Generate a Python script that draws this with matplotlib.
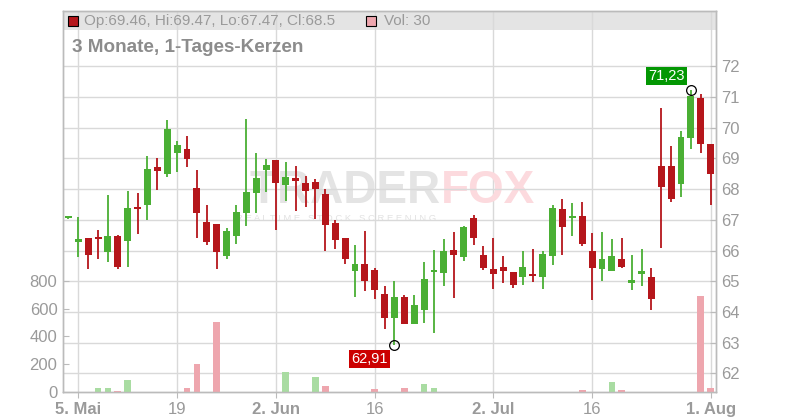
import numpy as np
import matplotlib
matplotlib.use("Agg")
import matplotlib.pyplot as plt
from matplotlib.patches import Rectangle

plt.rcParams['font.family'] = ['Liberation Sans', 'DejaVu Sans']

# Handelstage (Index 0 = 5. Mai), -1 = angeschnittene Kerze links
days = list(range(-1, 65))

opens = [67.06, 66.29, 66.41, 66.38, 65.96, 66.47, 66.32, 67.42, 67.49, 68.72, 68.50,
         69.19, 69.31, 68.04, 66.93, 66.86, 65.83, 66.48, 67.23, 67.88, 68.63,
         68.95, 68.15, 68.36, 68.20, 68.23, 67.84, 66.90, 66.41, 65.34, 65.56,
         65.37, 64.58, 63.81, 64.49, 63.62, 64.07, 65.31, 65.28, 66.02, 65.80,
         67.06, 65.85, 65.40, 65.46, 65.30, 65.15, 65.24, 65.14, 65.83, 67.35,
         67.07, 67.13, 65.98, 65.41, 65.34, 65.72, 64.95, 65.25, 65.14, 68.75,
         68.75, 68.18, 69.68, 70.96, 69.46]
highs = [67.10, 67.08, 66.41, 66.67, 67.81, 66.51, 67.94, 67.87, 69.08, 69.02, 70.25,
         69.57, 69.73, 68.62, 67.48, 66.86, 66.74, 67.48, 70.29, 69.18, 68.98,
         68.95, 68.88, 68.75, 68.43, 68.34, 68.00, 67.00, 66.41, 66.17, 66.64,
         65.43, 64.84, 65.01, 64.55, 64.55, 65.63, 66.02, 66.38, 66.60, 66.80,
         67.16, 66.16, 66.41, 65.82, 65.30, 65.98, 66.05, 65.98, 67.48, 67.68,
         67.55, 67.58, 66.57, 66.60, 66.38, 66.41, 65.85, 66.05, 65.43, 70.64,
         69.41, 69.90, 71.23, 71.09, 69.47]
lows = [67.04, 65.78, 65.41, 65.73, 65.64, 65.41, 65.47, 66.55, 67.00, 67.98, 68.41,
        68.57, 68.73, 66.42, 66.19, 65.41, 65.73, 66.22, 66.81, 67.23, 67.92,
        66.68, 67.62, 67.30, 67.43, 67.04, 65.99, 66.06, 65.57, 64.50, 64.69,
        64.43, 63.45, 62.91, 63.62, 63.62, 63.65, 63.32, 64.85, 64.46, 65.67,
        66.19, 65.38, 64.76, 64.95, 64.79, 64.89, 64.98, 64.76, 65.54, 65.86,
        66.48, 66.16, 64.40, 65.02, 65.34, 65.44, 64.72, 64.85, 64.07, 66.09,
        67.59, 67.75, 69.32, 69.19, 67.47]
closes = [67.10, 66.38, 65.86, 66.36, 66.47, 65.47, 67.39, 67.36, 68.66, 68.60, 69.96,
          69.44, 68.99, 67.23, 66.29, 65.96, 66.64, 67.26, 67.91, 68.36, 68.79,
          68.21, 68.40, 68.28, 67.95, 68.01, 66.84, 66.35, 65.73, 65.56, 65.02,
          64.72, 63.81, 64.49, 63.62, 64.23, 65.07, 65.33, 65.99, 65.86, 66.77,
          66.42, 65.44, 65.25, 65.34, 64.89, 65.46, 65.18, 65.89, 67.39, 66.78,
          67.10, 66.22, 65.44, 65.72, 65.82, 65.47, 65.04, 65.33, 64.43, 68.08,
          67.69, 69.70, 71.04, 69.48, 68.50]
volumes = [0, 0, 0, 31, 31, 9, 88, 0, 0, 0, 0,
           0, 31, 203, 0, 506, 0, 0, 0, 0, 0,
           0, 146, 0, 0, 110, 45, 0, 0, 0, 0,
           24, 0, 0, 31, 0, 60, 31, 0, 0, 0,
           0, 0, 0, 0, 0, 0, 0, 0, 0, 0,
           0, 17, 0, 0, 69, 17, 0, 0, 0, 0,
           0, 0, 0, 693, 30]

tick_pos = [0, 10, 20, 30, 42, 52, 64]
tick_labels = ['5. Mai', '19', '2. Jun', '16', '2. Jul', '16', '1. Aug']
tick_bold = [True, False, True, False, True, False, True]

vol_ticks = [0, 200, 400, 600, 800]
price_ticks = list(range(62, 73))

GREEN = '#4aaf34'
RED = '#b5161b'
VGREEN = '#a9dca2'
VRED = '#eea6ae'
GRID = '#d9d9d9'
TXT = '#9a9a9a'

fig = plt.figure(figsize=(8, 4.2), dpi=100)
ax_v = fig.add_axes([63/800, 1-392/420, (716-63)/800, (392-11)/420])
ax_p = ax_v.twinx()

ax_p.set_zorder(1)
ax_v.set_zorder(2)
ax_v.patch.set_visible(False)
ax_p.patch.set_visible(True)
ax_p.patch.set_facecolor('white')

ax_v.set_xlim(-1.55, 64.54)
ax_v.set_ylim(0, 2741)
ax_p.set_ylim(61.391, 73.805)

# Kopfzeile
ax_p.add_patch(Rectangle((0, 0.95), 1, 0.05, transform=ax_p.transAxes,
                         facecolor='#e4e4e4', edgecolor='none', zorder=0.5))

# Gitter
ax_p.set_yticks(price_ticks)
ax_p.grid(axis='y', color=GRID, lw=1)
for t in tick_pos:
    ax_p.axvline(t, color=GRID, lw=1, zorder=0.8)

# Wasserzeichen
ax_p.text(0.578, 0.528, 'TRADER', transform=ax_p.transAxes, ha='right', va='center',
          fontsize=33, fontweight='bold', fontstretch='expanded', color='#e4e4e4', zorder=0.9)
ax_p.text(0.578, 0.528, 'FOX', transform=ax_p.transAxes, ha='left', va='center',
          fontsize=33, fontweight='bold', color='#fcdade', zorder=0.9)
ax_p.text(0.419, 0.456, 'R E A L T I M E   S T O C K   S C R E E N I N G', transform=ax_p.transAxes,
          ha='center', va='center', fontsize=6.8, color='#e2e2e2', zorder=0.9)

# Kerzen
for d, o, h, l, c in zip(days, opens, highs, lows, closes):
    col = GREEN if c >= o else RED
    ax_p.vlines(d, l, h, color=col, lw=1.3, zorder=3)
    body = max(abs(c - o), 0.07)
    ax_p.bar(d, body, bottom=min(o, c), width=0.7, color=col, zorder=3)

# Volumen
prev = closes[0]
for d, v, c in zip(days, volumes, closes):
    col = VGREEN if c >= prev else VRED
    prev = c
    if v > 0:
        ax_v.bar(d, v, width=0.68, color=col, zorder=2)

# Hoch / Tief
i_hi = int(np.argmax(highs))
i_lo = int(np.argmin(lows))
ax_p.plot(days[i_hi], highs[i_hi], 'o', mfc='none', mec='black', ms=7, mew=0.9, zorder=5)
ax_p.plot(days[i_lo], lows[i_lo], 'o', mfc='none', mec='black', ms=7, mew=0.9, zorder=5)
ax_p.annotate(f'{highs[i_hi]:.2f}'.replace('.', ','), (days[i_hi], highs[i_hi]),
              xytext=(-17.5, 10), textcoords='offset points', ha='center', va='center',
              fontsize=10.5, color='white',
              bbox=dict(boxstyle='square,pad=0.15', fc='#039703', ec='none'), zorder=6)
ax_p.annotate(f'{lows[i_lo]:.2f}'.replace('.', ','), (days[i_lo], lows[i_lo]),
              xytext=(-18, -10), textcoords='offset points', ha='center', va='center',
              fontsize=10.5, color='white',
              bbox=dict(boxstyle='square,pad=0.15', fc='#cc0000', ec='none'), zorder=6)

# Legende in der Kopfzeile
ax_p.plot([0.0153], [0.975], 's', transform=ax_p.transAxes, ms=7.5, mfc=RED, mec='black',
          mew=0.8, clip_on=False, zorder=4)
ax_p.text(0.032, 0.975, 'Op:{:.2f}, Hi:{:.2f}, Lo:{:.2f}, Cl:{:g}'.format(
          opens[-1], highs[-1], lows[-1], closes[-1]),
          transform=ax_p.transAxes, va='center', ha='left', fontsize=11, color=TXT, zorder=4)
ax_p.plot([0.4717], [0.975], 's', transform=ax_p.transAxes, ms=7.5, mfc=VRED, mec='black',
          mew=0.8, clip_on=False, zorder=4)
ax_p.text(0.4916, 0.975, 'Vol: {}'.format(volumes[-1]), transform=ax_p.transAxes,
          va='center', ha='left', fontsize=11, color=TXT, zorder=4)

ax_p.text(0.0138, 0.9055, '3 Monate, 1-Tages-Kerzen', transform=ax_p.transAxes,
          va='center', ha='left', fontsize=13.6, fontweight='bold', color='#8c8c8c', zorder=4)

# Achsen
ax_v.set_yticks(vol_ticks)
ax_v.set_xticks(tick_pos, tick_labels)
for lab, b in zip(ax_v.get_xticklabels(), tick_bold):
    if b:
        lab.set_fontweight('bold')
ax_v.tick_params(axis='y', direction='in', length=4, color='#bbbbbb', labelcolor=TXT,
                 labelsize=12, pad=4)
ax_v.tick_params(axis='x', direction='out', length=4, color='#bbbbbb', labelcolor=TXT,
                 labelsize=12, pad=3)
ax_p.tick_params(axis='y', direction='in', length=4, color='#bbbbbb', labelcolor=TXT,
                 labelsize=12, pad=4)

for ax in (ax_v, ax_p):
    for s in ax.spines.values():
        s.set_color('#bbbbbb')
        s.set_linewidth(1)

fig.savefig('out.png', dpi=100)
